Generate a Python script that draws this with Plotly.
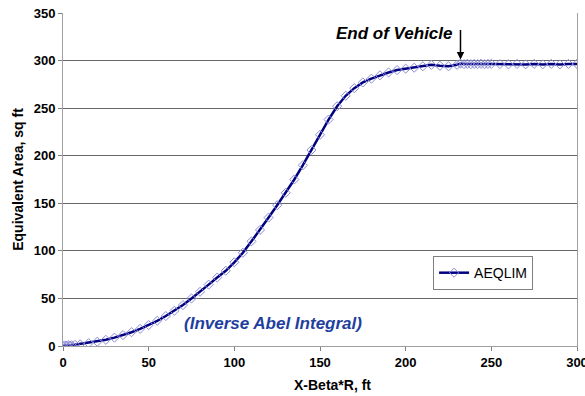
import plotly.graph_objects as go

# Equivalent area distribution along X - Beta*R
x_ft = [0, 1, 2, 3, 4, 5, 7, 10, 15, 20, 25, 30, 35, 40, 45, 50, 55, 60, 65, 70,
        75, 80, 85, 90, 95, 100, 105, 110, 115, 120, 125, 130, 135, 140, 145,
        150, 155, 160, 165, 170, 175, 180, 185, 190, 195, 200, 205, 210, 215,
        220, 225, 230, 232, 234, 236, 238, 240, 242, 244, 246, 248, 250, 255,
        260, 265, 270, 275, 280, 285, 290, 295, 300]
aeq_sqft = [0.0, 0.6, 0.3, 0.9, 0.5, 0.8, 1.2, 1.8, 3.0, 4.5, 6.5, 8.8, 11.5,
            14.5, 18.0, 22.0, 26.5, 31.5, 37.0, 43.0, 50.0, 57.0, 64.5, 72.0,
            79.0, 88.0, 98.0, 110.0, 122.0, 135.0, 148.0, 161.0, 175.0, 190.0,
            206.0, 222.0, 238.0, 252.0, 263.0, 271.0, 277.0, 281.0, 284.5,
            287.5, 290.0, 291.5, 292.5, 294.0, 295.5, 294.5, 294.0, 295.5,
            296.8, 296.3, 296.6, 296.2, 296.5, 296.3, 296.6, 296.2, 296.5,
            296.5, 296.3, 296.0, 296.5, 296.0, 296.5, 296.0, 296.5, 296.0,
            296.5, 296.5]

x_ticks = [0, 50, 100, 150, 200, 250, 300]
y_ticks = [0, 50, 100, 150, 200, 250, 300, 350]

end_of_vehicle_x = 232
end_of_vehicle_y = 297

FONT = "Liberation Sans, Arial"

fig = go.Figure()
fig.add_trace(go.Scatter(
    x=x_ft, y=aeq_sqft, mode="lines+markers", name="AEQLIM",
    line=dict(color="#000080", width=2.5),
    marker=dict(symbol="diamond-open", size=7, color="#8c8cd6",
                line=dict(width=1, color="#8c8cd6")),
))

fig.update_layout(
    width=585, height=396,
    margin=dict(l=63, r=8, t=13, b=50, autoexpand=False),
    paper_bgcolor="white", plot_bgcolor="white",
    showlegend=True,
    legend=dict(x=0.72, y=0.27, xanchor="left", yanchor="top",
                bgcolor="white", bordercolor="#808080", borderwidth=1,
                font=dict(family=FONT, size=14, color="black"),
                itemwidth=30, tracegroupgap=0),
    xaxis=dict(range=[0, 300], tickvals=x_ticks, ticks="outside", ticklen=4,
               tickcolor="#808080", showgrid=False, zeroline=False,
               showline=True, linecolor="#a0a0a0", linewidth=1, mirror=False,
               ticklabeloverflow="allow", automargin=False,
               tickfont=dict(family=FONT, size=13, color="black", weight="bold")),
    yaxis=dict(range=[0, 350], tickvals=y_ticks, ticks="outside", ticklen=4,
               tickcolor="#808080", showgrid=True, gridcolor="#666666", gridwidth=1,
               zeroline=False, showline=True, linecolor="#a0a0a0", linewidth=1,
               mirror=True, automargin=False,
               tickfont=dict(family=FONT, size=13, color="black", weight="bold"),
               title=dict(text="<b>Equivalent Area, sq ft</b>", standoff=6,
                          font=dict(family=FONT, size=14, color="black"))),
)

# x-axis title, sitting a little right of the plot centre
fig.add_annotation(
    x=0.525, y=0, xref="paper", yref="paper", yshift=-39,
    text="<b>X-Beta*R, ft</b>", showarrow=False,
    xanchor="center", yanchor="middle",
    font=dict(family=FONT, size=14, color="black"),
)

# arrow marking the end of the vehicle
fig.add_annotation(
    x=end_of_vehicle_x, y=end_of_vehicle_y, ax=0, ay=-35,
    xref="x", yref="y",
    text="", showarrow=True, arrowhead=2, arrowsize=1, arrowwidth=1.5,
    arrowcolor="black", standoff=4,
)
fig.add_annotation(
    x=end_of_vehicle_x - 3, y=328, xref="x", yref="y",
    text="<b><i>End of Vehicle</i></b>", showarrow=False,
    xanchor="right", yanchor="middle",
    font=dict(family=FONT, size=17, color="black"),
)
fig.add_annotation(
    x=122.6, y=24, xref="x", yref="y",
    text="<b><i>(Inverse Abel Integral)</i></b>", showarrow=False,
    xanchor="center", yanchor="middle",
    font=dict(family=FONT, size=17, color="#1f3f9f"),
)

fig.write_html("out.html")
